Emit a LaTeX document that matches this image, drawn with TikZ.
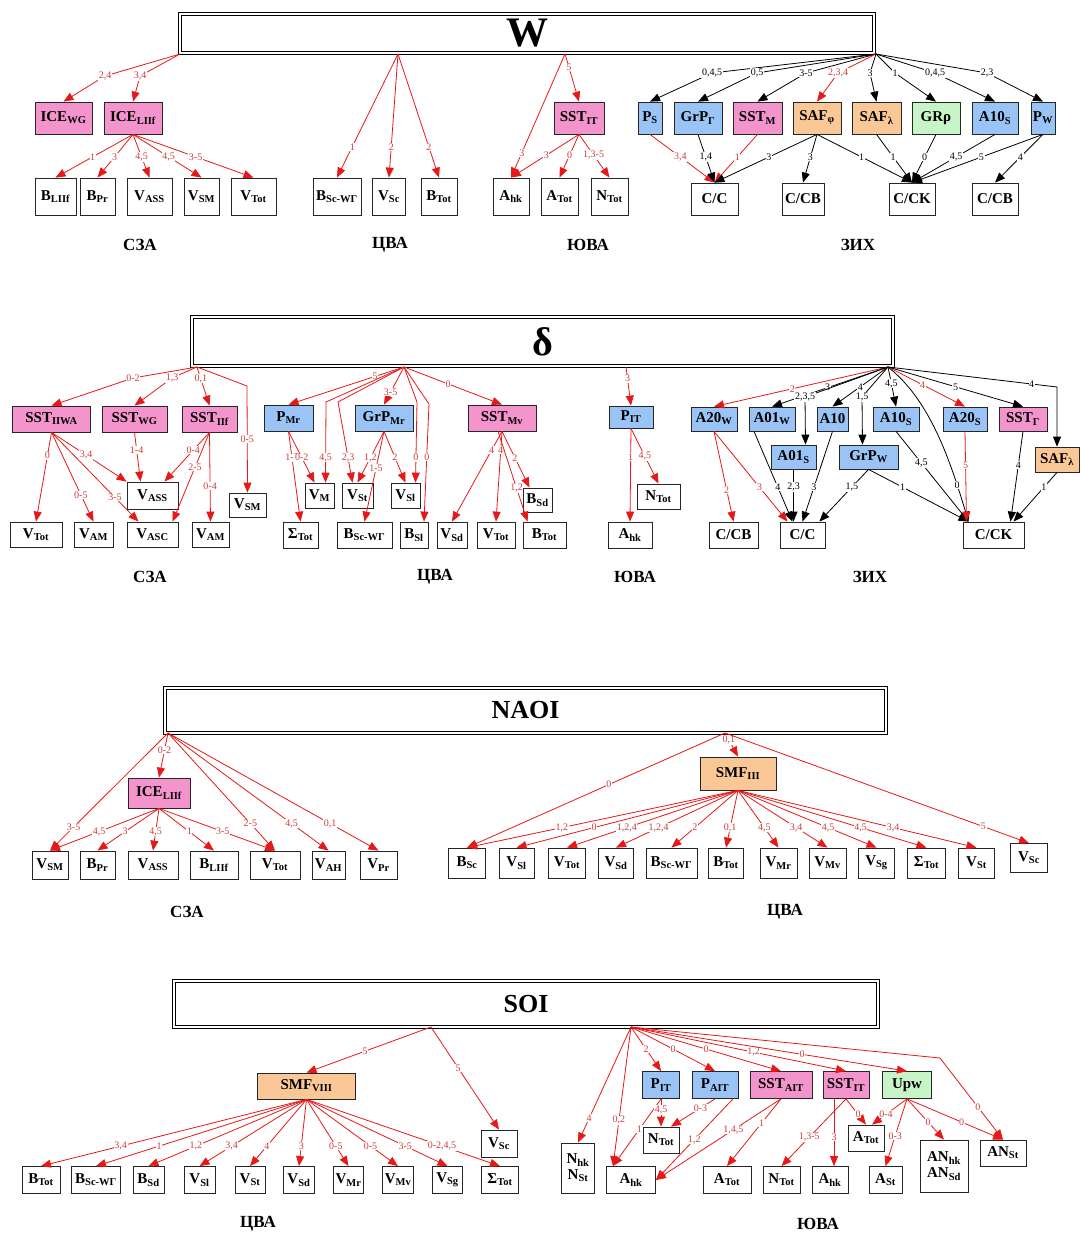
\documentclass[tikz,border=0pt]{standalone}
\usepackage{fontspec}
\setmainfont{Liberation Serif}
\usepackage{xcolor}
\usepackage{tikz}
\usetikzlibrary{arrows.meta}
\definecolor{icepink}{RGB}{244,148,204}
\definecolor{precblue}{RGB}{153,196,245}
\definecolor{saforange}{RGB}{250,200,150}
\definecolor{grgreen}{RGB}{200,245,200}
\definecolor{linkred}{RGB}{232,24,24}
\definecolor{labelred}{RGB}{205,60,60}

\begin{document}
\begin{tikzpicture}[x=1pt, y=-1pt,
    box/.style={draw=black!85, line width=0.8pt, inner sep=1pt, font=\fontsize{15}{16}\selectfont\bfseries},
    pinkbox/.style={box, fill=icepink},
    bluebox/.style={box, fill=precblue},
    orangebox/.style={box, fill=saforange},
    greenbox/.style={box, fill=grgreen},
    title/.style={draw, double, double distance=1.8pt, line width=1.3pt, font=\bfseries},
    redlink/.style={linkred, line width=0.8pt, -{Triangle[length=10pt,width=8pt]}},
    blklink/.style={black, line width=0.8pt, -{Triangle[length=10pt,width=8pt]}},
    rlbl/.style={fill=white, inner sep=0.6pt, text=labelred, font=\fontsize{10}{10}\selectfont},
    blbl/.style={rlbl, text=black},
    region/.style={font=\fontsize{17}{18}\selectfont\bfseries}]
    \fill[white] (0,0) rectangle (1080,1237);
    \useasboundingbox (0,0) rectangle (1080,1237);

    \node[title, minimum width=694pt, minimum height=39pt] (titW) at (527,33.5) {\fontsize{42}{42}\selectfont W};
    \coordinate (wNW) at (180,54);
    \coordinate (wCA) at (398,54);
    \coordinate (wSE) at (565,54);
    \coordinate (wSH) at (876,54);

    \node[pinkbox, minimum width=57pt, minimum height=32pt] (wIceWG) at (63.5,118) {ICE\textsubscript{WG}};
    \node[pinkbox, minimum width=58pt, minimum height=32pt] (wIceLf) at (133,118) {ICE\textsubscript{LIIf}};
    \node[box, minimum width=41pt, minimum height=37pt] (wBLf) at (55.5,196.5) {B\textsubscript{LIIf}};
    \node[box, minimum width=35pt, minimum height=37pt] (wBPr) at (97.5,196.5) {B\textsubscript{Pr}};
    \node[box, minimum width=45pt, minimum height=37pt] (wVAss) at (149.5,196.5) {V\textsubscript{ASS}};
    \node[box, minimum width=35pt, minimum height=37pt] (wVSm) at (201.5,196.5) {V\textsubscript{SM}};
    \node[box, minimum width=45pt, minimum height=37pt] (wVTot) at (253.5,196.5) {V\textsubscript{Tot}};
    \node[box, minimum width=48pt, minimum height=37pt] (wBScW) at (337,196.5) {B\textsubscript{Sc-WГ}};
    \node[box, minimum width=33pt, minimum height=37pt] (wVSc) at (389,196.5) {V\textsubscript{Sc}};
    \node[box, minimum width=36pt, minimum height=37pt] (wBTot) at (439,196.5) {B\textsubscript{Tot}};
    \node[pinkbox, minimum width=50pt, minimum height=32pt] (wSstP) at (579,118) {SST\textsubscript{IT}};
    \node[box, minimum width=36pt, minimum height=37pt] (wAHk) at (511,196.5) {A\textsubscript{hk}};
    \node[box, minimum width=37pt, minimum height=37pt] (wATot) at (559.5,196.5) {A\textsubscript{Tot}};
    \node[box, minimum width=37pt, minimum height=37pt] (wNTot) at (609.5,196.5) {N\textsubscript{Tot}};
    \node[bluebox, minimum width=24pt, minimum height=32pt] (wPS) at (650,118) {P\textsubscript{S}};
    \node[bluebox, minimum width=48pt, minimum height=32pt] (wGrPG) at (698,118) {GrP\textsubscript{Г}};
    \node[pinkbox, minimum width=49pt, minimum height=32pt] (wSstM) at (757.5,118) {SST\textsubscript{M}};
    \node[orangebox, minimum width=48pt, minimum height=32pt] (wSafF) at (817,118) {SAF\textsubscript{φ}};
    \node[orangebox, minimum width=49pt, minimum height=32pt] (wSafL) at (876.5,118) {SAF\textsubscript{λ}};
    \node[greenbox, minimum width=48pt, minimum height=32pt] (wGrRho) at (936,118) {GRρ};
    \node[bluebox, minimum width=46pt, minimum height=32pt] (wA10S) at (995,118) {A10\textsubscript{S}};
    \node[bluebox, minimum width=24pt, minimum height=32pt] (wPW) at (1043,118) {P\textsubscript{W}};
    \node[box, minimum width=47pt, minimum height=32pt] (wCC) at (714.5,199) {C/C};
    \node[box, minimum width=42pt, minimum height=32pt] (wCCB) at (803,199) {C/CB};
    \node[box, minimum width=46pt, minimum height=32pt] (wCCK) at (912,199) {C/CK};
    \node[box, minimum width=46pt, minimum height=32pt] (wCCB2) at (995,199) {C/CB};

    \draw[redlink] (wNW) -- (105,76) node[rlbl]{2,4} -- (wIceWG.north);
    \draw[redlink] (wNW) -- (140,76) node[rlbl]{3,4} -- (wIceLf.north);
    \draw[redlink] (wIceLf.south) -- node[rlbl, pos=.52]{1} (wBLf.north);
    \draw[redlink] (wIceLf.south) -- node[rlbl, pos=.52]{3} (wBPr.north);
    \draw[redlink] (wIceLf.south) -- node[rlbl, pos=.52]{4,5} (wVAss.north);
    \draw[redlink] (wIceLf.south) -- node[rlbl, pos=.52]{4,5} (wVSm.north);
    \draw[redlink] (wIceLf.south) -- node[rlbl, pos=.52]{3-5} (wVTot.north);
    \draw[redlink] (wCA) -- node[rlbl, pos=.75]{1} (wBScW.north);
    \draw[redlink] (wCA) -- node[rlbl, pos=.75]{2} (wVSc.north);
    \draw[redlink] (wCA) -- node[rlbl, pos=.75]{2} (wBTot.north);
    \draw[redlink] (wSE) -- node[rlbl, pos=.28]{5} (wSstP.north);
    \draw[redlink] (wSE) -- node[rlbl, pos=.8]{3} (wAHk.north);
    \draw[redlink] (wSstP.south) -- node[rlbl, pos=.48]{3} (wAHk.north);
    \draw[redlink] (wSstP.south) -- node[rlbl, pos=.48]{0} (wATot.north);
    \draw[redlink] (wSstP.south) -- node[rlbl, pos=.48]{1,3-5} (wNTot.north);
    \draw[blklink] (wSH) -- (712,73) node[blbl]{0,4,5} -- (wPS.north);
    \draw[blklink] (wSH) -- (757,73) node[blbl]{0,5} -- (wGrPG.north);
    \draw[blklink] (wSH) -- (806,73) node[blbl]{3-5} -- (wSstM.north);
    \draw[redlink] (wSH) -- (838,73) node[rlbl]{2,3,4} -- (wSafF.north);
    \draw[blklink] (wSH) -- (870,73) node[blbl]{3} -- (wSafL.north);
    \draw[blklink] (wSH) -- (895,73) node[blbl]{1} -- (wGrRho.north);
    \draw[blklink] (wSH) -- (935,73) node[blbl]{0,4,5} -- (wA10S.north);
    \draw[blklink] (wSH) -- (987,73) node[blbl]{2,3} -- (wPW.north);
    \draw[redlink] (wPS.south) -- node[rlbl, pos=.47]{3,4} (wCC.north);
    \draw[blklink] (wGrPG.south) -- node[blbl, pos=.47]{1,4} (wCC.north);
    \draw[redlink] (wSstM.south) -- node[rlbl, pos=.47]{1} (wCC.north);
    \draw[blklink] (wSafF.south) -- node[blbl, pos=.47]{3} (wCC.north);
    \draw[blklink] (wSafF.south) -- node[blbl, pos=.47]{3} (wCCB.north);
    \draw[blklink] (wSafF.south) -- node[blbl, pos=.47]{1} (wCCK.north);
    \draw[blklink] (wSafL.south) -- node[blbl, pos=.47]{1} (wCCK.north);
    \draw[blklink] (wGrRho.south) -- node[blbl, pos=.47]{0} (wCCK.north);
    \draw[blklink] (wA10S.south) -- node[blbl, pos=.47]{4,5} (wCCK.north);
    \draw[blklink] (wPW.south) -- node[blbl, pos=.47]{5} (wCCK.north);
    \draw[blklink] (wPW.south) -- node[blbl, pos=.47]{4} (wCCB2.north);

    \node[region] (wRegNW) at (140,245) {СЗА};
    \node[region] (wRegCA) at (390,245) {ЦВА};
    \node[region] (wRegSE) at (588,245) {ЮВА};
    \node[region] (wRegSH) at (858,245) {ЗИХ};

    \node[title, minimum width=701pt, minimum height=49pt] (titD) at (542.5,341.5) {\fontsize{40}{40}\selectfont δ};
    \coordinate (dNW) at (197,367);
    \coordinate (dCA) at (404,367);
    \coordinate (dSE) at (626,367);
    \coordinate (dSH) at (888,367);

    \node[pinkbox, minimum width=78pt, minimum height=26pt] (dSstWA) at (51.5,419) {SST\textsubscript{IIWA}};
    \node[pinkbox, minimum width=65pt, minimum height=26pt] (dSstWG) at (134.5,419) {SST\textsubscript{WG}};
    \node[pinkbox, minimum width=55pt, minimum height=26pt] (dSstLf) at (209.5,419) {SST\textsubscript{IIf}};
    \node[box, minimum width=51pt, minimum height=27pt] (dVAss) at (152.5,495.5) {V\textsubscript{ASS}};
    \node[box, minimum width=37pt, minimum height=24pt] (dVSm) at (247.5,505) {V\textsubscript{SM}};
    \node[box, minimum width=52pt, minimum height=25pt] (dVTot) at (36,534.5) {V\textsubscript{Tot}};
    \node[box, minimum width=39pt, minimum height=25pt] (dVAm) at (93.5,534.5) {V\textsubscript{AM}};
    \node[box, minimum width=51pt, minimum height=25pt] (dVAsc) at (152.5,534.5) {V\textsubscript{ASC}};
    \node[box, minimum width=37pt, minimum height=25pt] (dVAm2) at (210.5,534.5) {V\textsubscript{AM}};
    \node[bluebox, minimum width=49pt, minimum height=26pt] (dPMr) at (288.5,418) {P\textsubscript{Mr}};
    \node[bluebox, minimum width=58pt, minimum height=26pt] (dGrPMr) at (384,418) {GrP\textsubscript{Mr}};
    \node[pinkbox, minimum width=68pt, minimum height=26pt] (dSstMv) at (502,418) {SST\textsubscript{Mv}};
    \node[box, minimum width=29pt, minimum height=25pt] (dVM) at (319.5,495.5) {V\textsubscript{M}};
    \node[box, minimum width=31pt, minimum height=25pt] (dVSt) at (357.5,495.5) {V\textsubscript{St}};
    \node[box, minimum width=29pt, minimum height=25pt] (dVSl) at (405.5,495.5) {V\textsubscript{Sl}};
    \node[box, minimum width=29pt, minimum height=24pt] (dBSd) at (537.5,500) {B\textsubscript{Sd}};
    \node[box, minimum width=35pt, minimum height=26pt] (dSTot) at (300.5,535) {Σ\textsubscript{Tot}};
    \node[box, minimum width=55pt, minimum height=26pt] (dBScW) at (364.5,535) {B\textsubscript{Sc-WГ}};
    \node[box, minimum width=28pt, minimum height=26pt] (dBSl) at (414,535) {B\textsubscript{Sl}};
    \node[box, minimum width=30pt, minimum height=26pt] (dVSd) at (452,535) {V\textsubscript{Sd}};
    \node[box, minimum width=38pt, minimum height=26pt] (dVTot2) at (496,535) {V\textsubscript{Tot}};
    \node[box, minimum width=43pt, minimum height=26pt] (dBTot) at (544.5,535) {B\textsubscript{Tot}};
    \node[bluebox, minimum width=44pt, minimum height=22pt] (dPP) at (631,417) {P\textsubscript{IT}};
    \node[box, minimum width=43pt, minimum height=25pt] (dNTot) at (658.5,496.5) {N\textsubscript{Tot}};
    \node[box, minimum width=44pt, minimum height=26pt] (dAHk) at (630,535) {A\textsubscript{hk}};
    \node[bluebox, minimum width=46pt, minimum height=24pt] (dA20W) at (714,419) {A20\textsubscript{W}};
    \node[bluebox, minimum width=46pt, minimum height=24pt] (dA01W) at (772,419) {A01\textsubscript{W}};
    \node[bluebox, minimum width=31pt, minimum height=24pt] (dA10) at (832.5,419) {A10};
    \node[bluebox, minimum width=46pt, minimum height=24pt] (dA10S) at (896,419) {A10\textsubscript{S}};
    \node[bluebox, minimum width=44pt, minimum height=24pt] (dA20S) at (965,419) {A20\textsubscript{S}};
    \node[pinkbox, minimum width=48pt, minimum height=24pt] (dSstG) at (1023,419) {SST\textsubscript{Г}};
    \node[bluebox, minimum width=45pt, minimum height=24pt] (dA01S) at (793.5,457) {A01\textsubscript{S}};
    \node[bluebox, minimum width=59pt, minimum height=24pt] (dGrPW) at (868.5,457) {GrP\textsubscript{W}};
    \node[orangebox, minimum width=44pt, minimum height=25pt] (dSafL) at (1057,459.5) {SAF\textsubscript{λ}};
    \node[box, minimum width=49pt, minimum height=26pt] (dCCB) at (733.5,535) {C/CB};
    \node[box, minimum width=45pt, minimum height=26pt] (dCC) at (802.5,535) {C/C};
    \node[box, minimum width=61pt, minimum height=26pt] (dCCK) at (993.5,535) {C/CK};

    \draw[redlink] (dNW) -- (133,378) node[rlbl]{0-2} -- (dSstWA.north);
    \draw[redlink] (dNW) -- (172,378) node[rlbl]{1,3} -- (dSstWG.north);
    \draw[redlink] (dNW) -- node[rlbl, pos=.3]{0,1} (dSstLf.north);
    \draw[redlink] (dNW) -- (247,386) -- node[rlbl, pos=.5]{0-5} (dVSm.north);
    \draw[redlink] (dSstWA.south) -- node[rlbl, pos=.26]{0} (dVTot.north);
    \draw[redlink] (dSstWA.south) -- node[rlbl, pos=.46]{3,4} (dVAss.north west);
    \draw[redlink] (dSstWA.south) -- node[rlbl, pos=.7]{0-5} (dVAm.north);
    \draw[redlink] (dSstWA.south) -- node[rlbl, pos=.73]{3-5} ([xshift=-14pt]dVAsc.north);
    \draw[redlink] (dSstWG.south) -- node[rlbl, pos=.36]{1-4} ([xshift=-12pt]dVAss.north);
    \draw[redlink] (dSstLf.south) -- node[rlbl, pos=.36]{0-4} ([xshift=12pt]dVAss.north);
    \draw[redlink] (dSstLf.south) -- node[rlbl, pos=.39]{2-5} ([xshift=20pt]dVAsc.north);
    \draw[redlink] (dSstLf.south) -- node[rlbl, pos=.6]{0-4} (dVAm2.north);
    \draw[redlink] (dCA) -- node[rlbl, pos=.25]{5} (dPMr.north);
    \draw[redlink] (dCA) -- (326,402) -- node[rlbl, pos=.69]{4,5} ([xshift=6pt]dVM.north);
    \draw[redlink] (dCA) -- (338,402) -- node[rlbl, pos=.69]{2,3} ([xshift=-5pt]dVSt.north);
    \draw[redlink] (dCA) -- node[rlbl, pos=.67]{3-5} (dGrPMr.north);
    \draw[redlink] (dCA) -- (417,402) -- node[rlbl, pos=.69]{0} ([xshift=10pt]dVSl.north);
    \draw[redlink] (dCA) -- (429,404) -- node[rlbl, pos=.45]{0} ([xshift=10pt]dBSl.north);
    \draw[redlink] (dCA) -- node[rlbl, pos=.45]{0} (dSstMv.north);
    \draw[redlink] (dPMr.south) -- node[rlbl, pos=.29]{1-5} (dSTot.north);
    \draw[redlink] (dPMr.south) -- node[rlbl, pos=.51]{0-2} ([xshift=-5pt]dVM.north);
    \draw[redlink] (dGrPMr.south) -- node[rlbl, pos=.51]{1,2} (dVSt.north);
    \draw[redlink] (dGrPMr.south) -- node[rlbl, pos=.41]{1-5} (dBScW.north);
    \draw[redlink] (dGrPMr.south) -- node[rlbl, pos=.51]{2} (dVSl.north);
    \draw[redlink] (dSstMv.south) -- node[rlbl, pos=.21]{4} (dVSd.north);
    \draw[redlink] (dSstMv.south) -- node[rlbl, pos=.21]{4} (dVTot2.north);
    \draw[redlink] ([xshift=-4pt]dSstMv.south) -- node[rlbl, pos=.63]{1,2} ([xshift=-17pt]dBTot.north);
    \draw[redlink] (dSstMv.south) -- node[rlbl, pos=.47]{2} ([xshift=-8pt]dBSd.north);
    \draw[redlink] (dSE) -- node[rlbl, pos=.3]{3} (dPP.north);
    \draw[redlink] (dPP.south) -- node[rlbl, pos=.31]{1} (dAHk.north);
    \draw[redlink] (dPP.south) -- node[rlbl, pos=.5]{4,5} (dNTot.north);
    \draw[redlink] (dSH) -- node[rlbl, pos=.55]{2} (dA20W.north);
    \draw[blklink] (dSH) -- node[blbl, pos=.52]{3} (dA01W.north);
    \draw[blklink] (dSH) -- (805,397) node[blbl]{2,3,5} -- ([xshift=12pt]dA01S.north);
    \draw[blklink] (dSH) -- node[blbl, pos=.5]{4} (dA10.north);
    \draw[blklink] (dSH) -- (862,397) node[blbl]{1,5} -- ([xshift=-6pt]dGrPW.north);
    \draw[blklink] (dSH) -- node[blbl, pos=.42]{4,5} (dA10S.north);
    \draw[blklink] (dSH) .. controls (930,400) and (950,460) .. node[blbl, pos=.8]{0} ([xshift=-25pt]dCCK.north);
    \draw[redlink] (dSH) -- node[rlbl, pos=.45]{4} (dA20S.north);
    \draw[blklink] (dSH) -- node[blbl, pos=.5]{5} (dSstG.north);
    \draw[blklink] (dSH) -- node[blbl, pos=.85]{4} (1057,387) -- (dSafL.north);
    \draw[redlink] (dA20W.south) -- node[rlbl, pos=.65]{2} (dCCB.north);
    \draw[redlink] (dA20W.south) -- node[rlbl, pos=.62]{3} ([xshift=-15pt]dCC.north);
    \draw[blklink] ([xshift=-18pt]dA01W.south) -- node[blbl, pos=.62]{4} ([xshift=-10pt]dCC.north);
    \draw[blklink] (dA01S.south) -- node[blbl, pos=.34]{2,3} ([xshift=-9pt]dCC.north);
    \draw[blklink] (dA10.south) -- node[blbl, pos=.62]{3} (dCC.north);
    \draw[blklink] (dGrPW.south) -- node[blbl, pos=.34]{1,5} ([xshift=-6pt]dCC.north east);
    \draw[blklink] (dGrPW.south) -- node[blbl, pos=.34]{1} ([xshift=-25pt]dCCK.north);
    \draw[blklink] (dA10S.south) -- node[blbl, pos=.35]{4,5} ([xshift=-25pt]dCCK.north);
    \draw[redlink] (dA20S.south) -- node[rlbl, pos=.37]{5} ([xshift=-27pt]dCCK.north);
    \draw[blklink] (dSstG.south) -- node[blbl, pos=.37]{4} ([xshift=17pt]dCCK.north);
    \draw[blklink] (dSafL.south) -- node[blbl, pos=.3]{1} ([xshift=20pt]dCCK.north);

    \node[region] (dRegNW) at (150,577) {СЗА};
    \node[region] (dRegCA) at (435,577) {ЦВА};
    \node[region] (dRegSE) at (635,577) {ЮВА};
    \node[region] (dRegSH) at (870,577) {ЗИХ};

    \node[title, minimum width=721pt, minimum height=45pt] (titN) at (525.5,710.5) {\fontsize{26}{26}\selectfont NAOI};
    \coordinate (nNW) at (168,733);
    \coordinate (nCA) at (725,733);

    \node[pinkbox, minimum width=62pt, minimum height=30pt] (nIce) at (159,793) {ICE\textsubscript{LIIf}};
    \node[box, minimum width=36pt, minimum height=28pt] (nVSm) at (50,865) {V\textsubscript{SM}};
    \node[box, minimum width=35pt, minimum height=28pt] (nBPr) at (97.5,865) {B\textsubscript{Pr}};
    \node[box, minimum width=50pt, minimum height=28pt] (nVAss) at (153,865) {V\textsubscript{ASS}};
    \node[box, minimum width=48pt, minimum height=28pt] (nBLf) at (214,865) {B\textsubscript{LIIf}};
    \node[box, minimum width=50pt, minimum height=28pt] (nVTot) at (275,865) {V\textsubscript{Tot}};
    \node[box, minimum width=33pt, minimum height=28pt] (nVAh) at (328.5,865) {V\textsubscript{AH}};
    \node[box, minimum width=37pt, minimum height=28pt] (nVPr) at (378.5,865) {V\textsubscript{Pr}};
    \node[orangebox, minimum width=76pt, minimum height=33pt] (nSmf) at (738,773.5) {SMF\textsubscript{III}};
    \node[box, minimum width=37pt, minimum height=30pt] (nBSc) at (467,863) {B\textsubscript{Sc}};
    \node[box, minimum width=35pt, minimum height=30pt] (nVSl) at (516.5,863) {V\textsubscript{Sl}};
    \node[box, minimum width=37pt, minimum height=30pt] (nVTot2) at (567,863) {V\textsubscript{Tot}};
    \node[box, minimum width=35pt, minimum height=30pt] (nVSd) at (616,863) {V\textsubscript{Sd}};
    \node[box, minimum width=51pt, minimum height=30pt] (nBScW) at (671.5,863) {B\textsubscript{Sc-WГ}};
    \node[box, minimum width=35pt, minimum height=30pt] (nBTot) at (726,863) {B\textsubscript{Tot}};
    \node[box, minimum width=37pt, minimum height=30pt] (nVMr) at (778.5,863) {V\textsubscript{Mr}};
    \node[box, minimum width=37pt, minimum height=30pt] (nVMv) at (827.5,863) {V\textsubscript{Mv}};
    \node[box, minimum width=36pt, minimum height=30pt] (nVSg) at (876.5,863) {V\textsubscript{Sg}};
    \node[box, minimum width=38pt, minimum height=30pt] (nSTot) at (926.5,863) {Σ\textsubscript{Tot}};
    \node[box, minimum width=36pt, minimum height=30pt] (nVSt) at (976.5,863) {V\textsubscript{St}};
    \node[box, minimum width=37pt, minimum height=29pt] (nVSc) at (1029,858) {V\textsubscript{Sc}};

    \draw[redlink] (nNW) -- node[rlbl, pos=.38]{0-2} (nIce.north);
    \draw[redlink] (nNW) -- node[rlbl, pos=.8]{3-5} (nVSm.north);
    \draw[redlink] (nNW) -- node[rlbl, pos=.77]{2-5} (nVTot.north);
    \draw[redlink] (nNW) -- node[rlbl, pos=.77]{4,5} (nVAh.north);
    \draw[redlink] (nNW) -- node[rlbl, pos=.77]{0,1} (nVPr.north);
    \draw[redlink] (nIce.south) -- node[rlbl, pos=.55]{4,5} (nVSm.north);
    \draw[redlink] (nIce.south) -- node[rlbl, pos=.55]{3} (nBPr.north);
    \draw[redlink] (nIce.south) -- node[rlbl, pos=.55]{4,5} (nVAss.north);
    \draw[redlink] (nIce.south) -- node[rlbl, pos=.55]{1} (nBLf.north);
    \draw[redlink] (nIce.south) -- node[rlbl, pos=.55]{3-5} (nVTot.north);
    \draw[redlink] (nCA) -- node[rlbl, pos=.3]{0,1} (nSmf.north);
    \draw[redlink] (nCA) -- node[rlbl, pos=.45]{0} (nBSc.north);
    \draw[redlink] (nCA) -- node[rlbl, pos=.85]{5} (nVSc.north);
    \draw[redlink] (nSmf.south) -- node[rlbl, pos=.65]{1,2} (nBSc.north);
    \draw[redlink] (nSmf.south) -- node[rlbl, pos=.65]{0} (nVSl.north);
    \draw[redlink] (nSmf.south) -- node[rlbl, pos=.65]{1,2,4} (nVTot2.north);
    \draw[redlink] (nSmf.south) -- node[rlbl, pos=.65]{1,2,4} (nVSd.north);
    \draw[redlink] (nSmf.south) -- node[rlbl, pos=.65]{2} (nBScW.north);
    \draw[redlink] (nSmf.south) -- node[rlbl, pos=.65]{0,1} (nBTot.north);
    \draw[redlink] (nSmf.south) -- node[rlbl, pos=.65]{4,5} (nVMr.north);
    \draw[redlink] (nSmf.south) -- node[rlbl, pos=.65]{3,4} (nVMv.north);
    \draw[redlink] (nSmf.south) -- node[rlbl, pos=.65]{4,5} (nVSg.north);
    \draw[redlink] (nSmf.south) -- node[rlbl, pos=.65]{4,5} (nSTot.north);
    \draw[redlink] (nSmf.south) -- node[rlbl, pos=.65]{3,4} (nVSt.north);

    \node[region] (nRegNW) at (187,912) {СЗА};
    \node[region] (nRegCA) at (785,912) {ЦВА};

    \node[title, minimum width=704pt, minimum height=46pt] (titS) at (526,1004) {\fontsize{26}{26}\selectfont SOI};
    \coordinate (sCA) at (431,1027);
    \coordinate (sSE) at (631,1027);

    \node[orangebox, minimum width=98pt, minimum height=26pt] (sSmf) at (306.5,1086) {SMF\textsubscript{VIII}};
    \node[box, minimum width=36pt, minimum height=27pt] (sVSc) at (499,1143.5) {V\textsubscript{Sc}};
    \node[box, minimum width=38pt, minimum height=27pt] (sBTot) at (41,1180) {B\textsubscript{Tot}};
    \node[box, minimum width=49pt, minimum height=27pt] (sBScW) at (96,1180) {B\textsubscript{Sc-WГ}};
    \node[box, minimum width=31pt, minimum height=27pt] (sBSd) at (148.5,1180) {B\textsubscript{Sd}};
    \node[box, minimum width=31pt, minimum height=27pt] (sVSl) at (199.5,1180) {V\textsubscript{Sl}};
    \node[box, minimum width=30pt, minimum height=27pt] (sVSt) at (250,1180) {V\textsubscript{St}};
    \node[box, minimum width=31pt, minimum height=27pt] (sVSd) at (299,1180) {V\textsubscript{Sd}};
    \node[box, minimum width=30pt, minimum height=27pt] (sVMr) at (348.5,1180) {V\textsubscript{Mr}};
    \node[box, minimum width=31pt, minimum height=27pt] (sVMv) at (398,1180) {V\textsubscript{Mv}};
    \node[box, minimum width=30pt, minimum height=27pt] (sVSg) at (447.5,1180) {V\textsubscript{Sg}};
    \node[box, minimum width=37pt, minimum height=27pt] (sSTot) at (500,1180) {Σ\textsubscript{Tot}};
    \node[bluebox, minimum width=37pt, minimum height=27pt] (sPP) at (661,1085) {P\textsubscript{IT}};
    \node[bluebox, minimum width=46pt, minimum height=27pt] (sPAP) at (715,1085) {P\textsubscript{AIT}};
    \node[pinkbox, minimum width=62pt, minimum height=27pt] (sSstAP) at (781,1085) {SST\textsubscript{AIT}};
    \node[pinkbox, minimum width=46pt, minimum height=27pt] (sSstP) at (846,1085) {SST\textsubscript{IT}};
    \node[greenbox, minimum width=49pt, minimum height=27pt] (sUpw) at (907,1085) {Upw};
    \node[box, minimum width=36pt, minimum height=26pt] (sNTot) at (661,1140) {N\textsubscript{Tot}};
    \node[box, minimum width=36pt, minimum height=26pt] (sATotU) at (866,1138) {A\textsubscript{Tot}};
    \node[box, minimum width=33pt, minimum height=50pt, align=center] (sNHkSt) at (578,1168) {N\textsubscript{hk}\\N\textsubscript{St}};
    \node[box, minimum width=48pt, minimum height=52pt, align=center] (sAnHkSd) at (944,1166) {AN\textsubscript{hk}\\AN\textsubscript{Sd}};
    \node[box, minimum width=46pt, minimum height=26pt] (sAnSt) at (1003,1153) {AN\textsubscript{St}};
    \node[box, minimum width=49pt, minimum height=27pt] (sAHk) at (631,1180) {A\textsubscript{hk}};
    \node[box, minimum width=48pt, minimum height=27pt] (sATot) at (727,1180) {A\textsubscript{Tot}};
    \node[box, minimum width=37pt, minimum height=27pt] (sNTot2) at (781.5,1180) {N\textsubscript{Tot}};
    \node[box, minimum width=36pt, minimum height=27pt] (sAHk2) at (830,1180) {A\textsubscript{hk}};
    \node[box, minimum width=33pt, minimum height=27pt] (sASt) at (885.5,1180) {A\textsubscript{St}};

    \draw[redlink] (sCA) -- node[rlbl, pos=.53]{5} (sSmf.north);
    \draw[redlink] (sCA) -- node[rlbl, pos=.4]{5} (sVSc.north);
    \draw[redlink] (sSmf.south) -- node[rlbl, pos=.7]{3,4} (sBTot.north);
    \draw[redlink] (sSmf.south) -- node[rlbl, pos=.7]{1} (sBScW.north);
    \draw[redlink] (sSmf.south) -- node[rlbl, pos=.7]{1,2} (sBSd.north);
    \draw[redlink] (sSmf.south) -- node[rlbl, pos=.7]{3,4} (sVSl.north);
    \draw[redlink] (sSmf.south) -- node[rlbl, pos=.7]{4} (sVSt.north);
    \draw[redlink] (sSmf.south) -- node[rlbl, pos=.7]{3} (sVSd.north);
    \draw[redlink] (sSmf.south) -- node[rlbl, pos=.7]{0-5} (sVMr.north);
    \draw[redlink] (sSmf.south) -- node[rlbl, pos=.7]{0-5} (sVMv.north);
    \draw[redlink] (sSmf.south) -- node[rlbl, pos=.7]{3-5} (sVSg.north);
    \draw[redlink] (sSmf.south) -- node[rlbl, pos=.7]{0-2,4,5} (sSTot.north);
    \draw[redlink] (sSE) -- node[rlbl, pos=.79]{4} (sNHkSt.north);
    \draw[redlink] (sSE) -- node[rlbl, pos=.67]{0,2} ([xshift=-18pt]sAHk.north);
    \draw[redlink] (sSE) -- node[rlbl, pos=.5]{2} (sPP.north);
    \draw[redlink] (sSE) -- node[rlbl, pos=.5]{0} (sPAP.north);
    \draw[redlink] (sSE) -- node[rlbl, pos=.5]{0} (sSstAP.north);
    \draw[redlink] (sSE) -- node[rlbl, pos=.57]{1,2} (sSstP.north);
    \draw[redlink] (sSE) -- node[rlbl, pos=.62]{0} (sUpw.north);
    \draw[redlink] (sSE) -- (940,1058) -- node[rlbl, pos=.6]{0} (sAnSt.north);
    \draw[redlink] (sPP.south) -- node[rlbl, pos=.45]{1} ([xshift=-18pt]sAHk.north);
    \draw[redlink] (sPP.south) -- node[rlbl, pos=.4]{4,5} (sNTot.north);
    \draw[redlink] (sPAP.south) -- node[rlbl, pos=.33]{0-3} ([xshift=10pt]sNTot.north);
    \draw[redlink] ([xshift=18pt]sPAP.south) -- node[rlbl, pos=.5]{1,2} (sAHk.east);
    \draw[redlink] (sSstAP.south) -- node[rlbl, pos=.38]{1,4,5} (sAHk.east);
    \draw[redlink] (sSstAP.south) -- node[rlbl, pos=.36]{1} (sATot.north);
    \draw[redlink] (sSstP.south) -- node[rlbl, pos=.57]{1,3-5} (sNTot2.north);
    \draw[redlink] ([xshift=-12pt]sSstP.south) -- node[rlbl, pos=.57]{3} ([xshift=4pt]sAHk2.north);
    \draw[redlink] (sSstP.south) -- node[rlbl, pos=.6]{0} (sATotU.north);
    \draw[redlink] (sUpw.south) -- node[rlbl, pos=.6]{0-4} ([xshift=6pt]sATotU.north);
    \draw[redlink] (sUpw.south) -- node[rlbl, pos=.55]{0-3} (sASt.north);
    \draw[redlink] (sUpw.south) -- node[rlbl, pos=.57]{0} (sAnHkSd.north);
    \draw[redlink] (sUpw.south) -- node[rlbl, pos=.57]{0} (sAnSt.north);

    \node[region] (sRegCA) at (258,1224) {ЦВА};
    \node[region] (sRegSE) at (818,1224) {ЮВА};
\end{tikzpicture}
\end{document}
